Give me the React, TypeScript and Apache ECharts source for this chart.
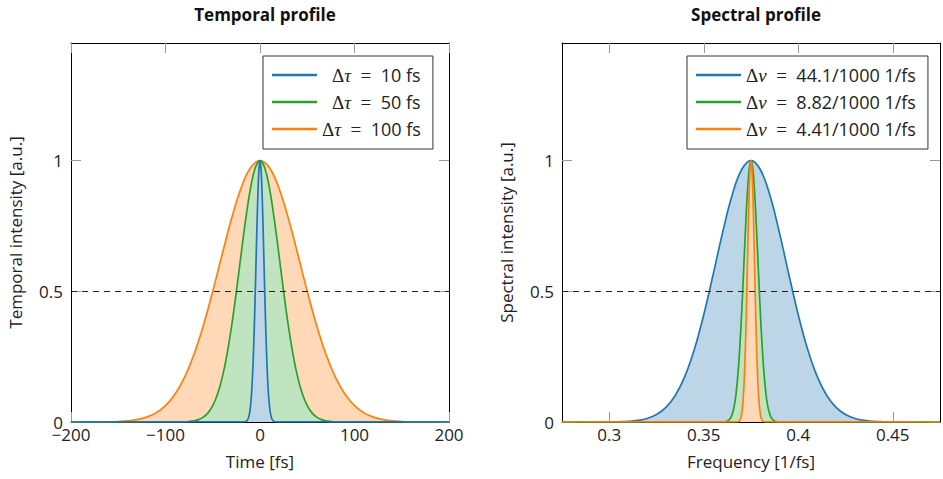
import React, { useEffect, useRef } from "react";
import * as echarts from "echarts";

// ---------- Data ----------
// Temporal profile, Δτ = 100 fs
const time100 = [-200, -190, -180, -170, -160, -150, -140, -130, -120, -110, -100, -90, -80, -70, -60, -50, -40, -30, -20, -10, 0, 10, 20, 30, 40, 50, 60, 70, 80, 90, 100, 110, 120, 130, 140, 150, 160, 170, 180, 190, 200];
const int100 = [0.00002, 0.00005, 0.00013, 0.00033, 0.00083, 0.00195, 0.0044, 0.0092, 0.0185, 0.0349, 0.0625, 0.1058, 0.1696, 0.257, 0.3686, 0.5, 0.6417, 0.7792, 0.895, 0.9727, 1, 0.9727, 0.895, 0.7792, 0.6417, 0.5, 0.3686, 0.257, 0.1696, 0.1058, 0.0625, 0.0349, 0.0185, 0.0092, 0.0044, 0.00195, 0.00083, 0.00033, 0.00013, 0.00005, 0.00002];
// Temporal profile, Δτ = 50 fs
const time50 = [-200, -80, -75, -70, -65, -60, -55, -50, -45, -40, -35, -30, -25, -20, -15, -10, -5, 0, 5, 10, 15, 20, 25, 30, 35, 40, 45, 50, 55, 60, 65, 70, 75, 80, 200];
const int50 = [0, 0.0008, 0.002, 0.0044, 0.0092, 0.0185, 0.0349, 0.0625, 0.1058, 0.1696, 0.257, 0.3686, 0.5, 0.6417, 0.7792, 0.895, 0.9727, 1, 0.9727, 0.895, 0.7792, 0.6417, 0.5, 0.3686, 0.257, 0.1696, 0.1058, 0.0625, 0.0349, 0.0185, 0.0092, 0.0044, 0.002, 0.0008, 0];
// Temporal profile, Δτ = 10 fs
const time10 = [-200, -16, -15, -14, -13, -12, -11, -10, -9, -8, -7, -6, -5, -4, -3, -2, -1, 0, 1, 2, 3, 4, 5, 6, 7, 8, 9, 10, 11, 12, 13, 14, 15, 16, 200];
const int10 = [0, 0.0008, 0.002, 0.0044, 0.0092, 0.0185, 0.0349, 0.0625, 0.1058, 0.1696, 0.257, 0.3686, 0.5, 0.6417, 0.7792, 0.895, 0.9727, 1, 0.9727, 0.895, 0.7792, 0.6417, 0.5, 0.3686, 0.257, 0.1696, 0.1058, 0.0625, 0.0349, 0.0185, 0.0092, 0.0044, 0.002, 0.0008, 0];

// Spectral profile, Δν = 44.1/1000 1/fs
const freqA = [0.275, 0.28, 0.285, 0.29, 0.295, 0.3, 0.305, 0.31, 0.315, 0.32, 0.325, 0.33, 0.335, 0.34, 0.345, 0.35, 0.355, 0.36, 0.365, 0.37, 0.375, 0.38, 0.385, 0.39, 0.395, 0.4, 0.405, 0.41, 0.415, 0.42, 0.425, 0.43, 0.435, 0.44, 0.445, 0.45, 0.455, 0.46, 0.465, 0.47, 0.475];
const specA = [0, 0, 0.00001, 0.00003, 0.0001, 0.0003, 0.0009, 0.0024, 0.0059, 0.0134, 0.0283, 0.0557, 0.1022, 0.1744, 0.2772, 0.4102, 0.5654, 0.7256, 0.8671, 0.965, 1, 0.965, 0.8671, 0.7256, 0.5654, 0.4102, 0.2772, 0.1744, 0.1022, 0.0557, 0.0283, 0.0134, 0.0059, 0.0024, 0.0009, 0.0003, 0.0001, 0.00003, 0.00001, 0, 0];
// Spectral profile, Δν = 8.82/1000 1/fs
const freqB = [0.275, 0.36, 0.361, 0.362, 0.363, 0.364, 0.365, 0.366, 0.367, 0.368, 0.369, 0.37, 0.371, 0.372, 0.373, 0.374, 0.375, 0.376, 0.377, 0.378, 0.379, 0.38, 0.381, 0.382, 0.383, 0.384, 0.385, 0.386, 0.387, 0.388, 0.389, 0.39, 0.475];
const specB = [0, 0.0003, 0.0009, 0.0024, 0.0059, 0.0134, 0.0283, 0.0557, 0.1022, 0.1744, 0.2772, 0.4102, 0.5654, 0.7256, 0.8671, 0.965, 1, 0.965, 0.8671, 0.7256, 0.5654, 0.4102, 0.2772, 0.1744, 0.1022, 0.0557, 0.0283, 0.0134, 0.0059, 0.0024, 0.0009, 0.0003, 0];
// Spectral profile, Δν = 4.41/1000 1/fs
const freqC = [0.275, 0.3675, 0.368, 0.3685, 0.369, 0.3695, 0.37, 0.3705, 0.371, 0.3715, 0.372, 0.3725, 0.373, 0.3735, 0.374, 0.3745, 0.375, 0.3755, 0.376, 0.3765, 0.377, 0.3775, 0.378, 0.3785, 0.379, 0.3795, 0.38, 0.3805, 0.381, 0.3815, 0.382, 0.3825, 0.475];
const specC = [0, 0.0003, 0.0009, 0.0024, 0.0059, 0.0134, 0.0283, 0.0557, 0.1022, 0.1744, 0.2772, 0.4102, 0.5654, 0.7256, 0.8671, 0.965, 1, 0.965, 0.8671, 0.7256, 0.5654, 0.4102, 0.2772, 0.1744, 0.1022, 0.0557, 0.0283, 0.0134, 0.0059, 0.0024, 0.0009, 0.0003, 0];

const timeTicks = [-200, -100, 0, 100, 200];
const freqTicks = [0.3, 0.35, 0.4, 0.45];
const intensityTicks = [0, 0.5, 1];
const halfMax = 0.5;

const titles = ["Temporal profile", "Spectral profile"];
const xNames = ["Time [fs]", "Frequency [1/fs]"];
const yNames = ["Temporal intensity [a.u.]", "Spectral intensity [a.u.]"];

const BLUE = "#1f77b4";
const GREEN = "#2ca02c";
const ORANGE = "#ff7f0e";
const BLUE_FILL = "#bcd6e8";
const GREEN_FILL = "#c0e3c0";
const ORANGE_FILL = "#ffd8b7";
const SANS = "Open Sans";
const SERIF = "Liberation Serif";

const zip = (xs: number[], ys: number[]) => xs.map((x, i) => [x, ys[i]]);
const minus = (v: number) => String(v).replace("-", "\u2212");

export default function App() {
  const ref = useRef<HTMLDivElement>(null);
  useEffect(() => {
    if (!ref.current) return;
    const chart = echarts.init(ref.current, null, { renderer: "svg" });

    const tickStyle = { show: true, inside: true, length: 10, lineStyle: { color: "#999", width: 1 } };
    const lineAx = { show: true, onZero: false, lineStyle: { color: "#000", width: 1 } };
    const labelStyle = { color: "#222", fontFamily: SANS, fontSize: 17 };
    const nameStyle = { color: "#222", fontFamily: SANS, fontSize: 17 };

    const mkSeries = (name: string, data: number[][], color: string, fill: string, xi: number, yi: number, mark = false) => ({
      name,
      type: "line",
      xAxisIndex: xi,
      yAxisIndex: yi,
      data,
      smooth: 0.4,
      symbol: "none",
      showSymbol: false,
      lineStyle: { color, width: 1.7 },
      itemStyle: { color },
      areaStyle: { color: fill, opacity: 1 },
      z: 2,
      markLine: mark
        ? {
            silent: true,
            symbol: "none",
            label: { show: false },
            z: 5,
            lineStyle: { color: "#222", width: 1, type: [6, 5] },
            data: [{ yAxis: halfMax }],
          }
        : undefined,
    });

    const legendRich = {
      sp: { width: 10 },
      g: { fontFamily: SERIF, fontSize: 19, color: "#222" },
      i: { fontFamily: SERIF, fontStyle: "italic", fontSize: 19, color: "#222" },
      e: { fontFamily: SERIF, fontSize: 19, color: "#222" },
      n: { fontFamily: SANS, fontSize: 18, color: "#222" },
    };
    const legendMap: Record<string, string> = {
      dt10: "{sp| }{g|\u0394}{i|\u03c4}{e|\u2002=\u2002}{n|10 fs}",
      dt50: "{sp| }{g|\u0394}{i|\u03c4}{e|\u2002=\u2002}{n|50 fs}",
      dt100: "{g|\u0394}{i|\u03c4}{e|\u2002=\u2002}{n|100 fs}",
      nu1: "{g|\u0394}{i|\u03bd}{e|\u2002=\u2002}{n|44.1/1000 1/fs}",
      nu2: "{g|\u0394}{i|\u03bd}{e|\u2002=\u2002}{n|8.82/1000 1/fs}",
      nu3: "{g|\u0394}{i|\u03bd}{e|\u2002=\u2002}{n|4.41/1000 1/fs}",
    };
    const legendCommon = {
      orient: "vertical",
      backgroundColor: "#fff",
      borderColor: "#333",
      borderWidth: 1,
      borderRadius: 0,
      padding: [9, 12, 10, 9],
      itemGap: 7,
      itemWidth: 45,
      itemHeight: 2.5,
      icon: "rect",
      formatter: (n: string) => legendMap[n],
      textStyle: { rich: legendRich, lineHeight: 20 },
    };

    const grids = [
      { left: 71, width: 378, top: 43, height: 379 },
      { left: 562, width: 378, top: 43, height: 379 },
    ];

    const titleStyle = { fontFamily: SANS, fontWeight: "bold", fontSize: 17, color: "#111" };

    const option: any = {
      animation: false,
      backgroundColor: "#fff",
      title: [
        { text: titles[0], left: 260, top: 1, textAlign: "center", textStyle: titleStyle },
        { text: titles[1], left: 751, top: 1, textAlign: "center", textStyle: titleStyle },
      ],
      legend: [
        { ...legendCommon, left: 263, top: 56, data: ["dt10", "dt50", "dt100"] },
        { ...legendCommon, left: 687, top: 56, data: ["nu1", "nu2", "nu3"] },
      ],
      grid: grids.map((g) => ({ ...g, containLabel: false })),
      xAxis: [
        {
          gridIndex: 0, type: "value", position: "bottom", min: -200, max: 200, interval: 100,
          axisLine: lineAx, axisTick: tickStyle, splitLine: { show: false },
          axisLabel: { ...labelStyle, margin: 4, formatter: minus, customValues: timeTicks },
          name: xNames[0], nameLocation: "middle", nameGap: 31, nameTextStyle: nameStyle,
        },
        {
          gridIndex: 0, type: "value", position: "top", min: -200, max: 200, interval: 100,
          axisLine: lineAx, axisTick: tickStyle, splitLine: { show: false }, axisLabel: { show: false },
        },
        {
          gridIndex: 1, type: "value", position: "bottom", min: 0.275, max: 0.475,
          axisLine: lineAx, axisTick: { ...tickStyle, customValues: freqTicks }, splitLine: { show: false },
          axisLabel: { ...labelStyle, margin: 4, customValues: freqTicks, formatter: (v: number) => String(v) },
          name: xNames[1], nameLocation: "middle", nameGap: 31, nameTextStyle: nameStyle,
        },
        {
          gridIndex: 1, type: "value", position: "top", min: 0.275, max: 0.475,
          axisLine: lineAx, axisTick: { ...tickStyle, customValues: freqTicks }, splitLine: { show: false }, axisLabel: { show: false },
        },
      ],
      yAxis: [0, 1].flatMap((gi) => [
        {
          gridIndex: gi, type: "value", position: "left", min: 0, max: 1.45,
          axisLine: lineAx, axisTick: { ...tickStyle, customValues: intensityTicks }, splitLine: { show: false },
          axisLabel: { ...labelStyle, margin: 8, customValues: intensityTicks, formatter: (v: number) => String(v) },
          name: yNames[gi], nameLocation: "middle", nameGap: 47, nameRotate: 90, nameTextStyle: nameStyle,
        },
        {
          gridIndex: gi, type: "value", position: "right", min: 0, max: 1.45,
          axisLine: lineAx, axisTick: { ...tickStyle, customValues: intensityTicks }, splitLine: { show: false },
          axisLabel: { show: false },
        },
      ]),
      series: [
        mkSeries("dt100", zip(time100, int100), ORANGE, ORANGE_FILL, 0, 0, true),
        mkSeries("dt50", zip(time50, int50), GREEN, GREEN_FILL, 0, 0),
        mkSeries("dt10", zip(time10, int10), BLUE, BLUE_FILL, 0, 0),
        mkSeries("nu1", zip(freqA, specA), BLUE, BLUE_FILL, 2, 2, true),
        mkSeries("nu2", zip(freqB, specB), GREEN, GREEN_FILL, 2, 2),
        mkSeries("nu3", zip(freqC, specC), ORANGE, ORANGE_FILL, 2, 2),
      ],
    };
    chart.setOption(option);
    return () => chart.dispose();
  }, []);

  return <div ref={ref} style={{ position: "fixed", left: 0, top: 0, width: 943, height: 479, background: "#fff" }} />;
}
